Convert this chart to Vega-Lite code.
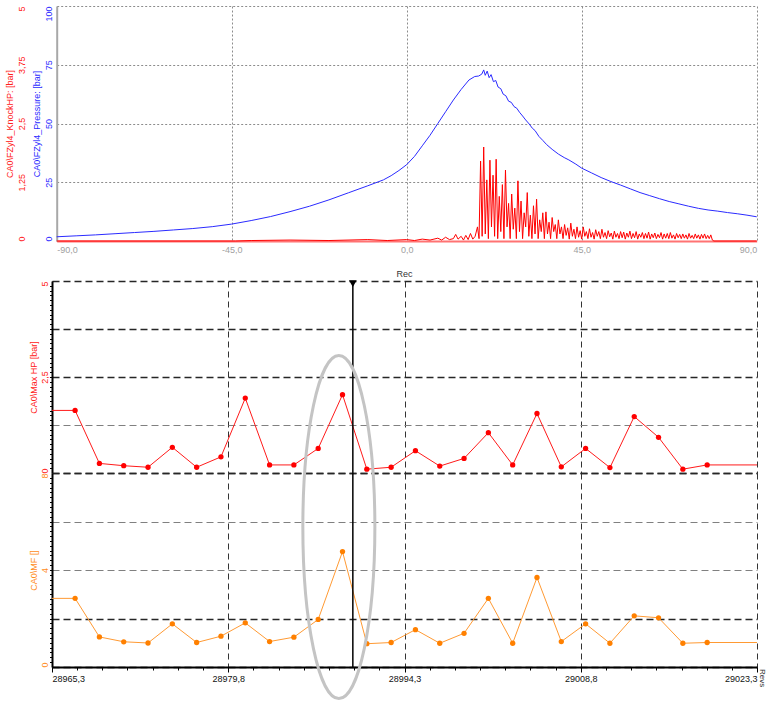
{
  "$schema": "https://vega.github.io/schema/vega-lite/v6.json",
  "padding": {"left": 5, "top": 6, "right": 0, "bottom": 0},
  "config": {
    "font": "Liberation Sans",
    "view": {"stroke": null},
    "axis": {"labelFontSize": 9, "titleFontSize": 9, "titleFontWeight": "normal", "labelOverlap": false}
  },
  "datasets": {
    "pressure": [
      {"deg": -90, "bar": 1.8}, {"deg": -85, "bar": 2.2}, {"deg": -80, "bar": 2.6}, {"deg": -75, "bar": 3.1},
      {"deg": -70, "bar": 3.6}, {"deg": -65, "bar": 4.1}, {"deg": -60, "bar": 4.7}, {"deg": -55, "bar": 5.3},
      {"deg": -50, "bar": 6.1}, {"deg": -45, "bar": 7.2}, {"deg": -40, "bar": 8.7}, {"deg": -35, "bar": 10.4},
      {"deg": -30, "bar": 12.5}, {"deg": -25, "bar": 14.8}, {"deg": -20, "bar": 17.5}, {"deg": -15, "bar": 20.5},
      {"deg": -10, "bar": 23.5}, {"deg": -6, "bar": 26}, {"deg": -4, "bar": 27.8}, {"deg": -2, "bar": 30},
      {"deg": 0, "bar": 32.5}, {"deg": 2, "bar": 36}, {"deg": 4, "bar": 40.5}, {"deg": 6, "bar": 45},
      {"deg": 8, "bar": 50}, {"deg": 10, "bar": 55}, {"deg": 12, "bar": 60}, {"deg": 14, "bar": 64.5},
      {"deg": 16, "bar": 68.5}, {"deg": 17.5, "bar": 70}, {"deg": 18.5, "bar": 70.2}, {"deg": 19.3, "bar": 71},
      {"deg": 19.8, "bar": 72.8}, {"deg": 20.2, "bar": 70.5}, {"deg": 20.7, "bar": 72.3}, {"deg": 21.2, "bar": 69.5},
      {"deg": 21.7, "bar": 70.8}, {"deg": 22.3, "bar": 67.8}, {"deg": 22.9, "bar": 68.3}, {"deg": 23.5, "bar": 65.5},
      {"deg": 24.2, "bar": 64.8}, {"deg": 24.8, "bar": 62.5}, {"deg": 25.5, "bar": 61.8}, {"deg": 26.2, "bar": 59.5},
      {"deg": 26.9, "bar": 59}, {"deg": 27.6, "bar": 57.2}, {"deg": 28.3, "bar": 56.5}, {"deg": 29, "bar": 54.8},
      {"deg": 29.8, "bar": 53.2}, {"deg": 30.6, "bar": 51.5}, {"deg": 31.5, "bar": 49.8}, {"deg": 32.3, "bar": 48},
      {"deg": 33, "bar": 47}, {"deg": 34, "bar": 44.5}, {"deg": 35, "bar": 42.8}, {"deg": 36, "bar": 41},
      {"deg": 37.4, "bar": 39}, {"deg": 39, "bar": 37}, {"deg": 40.5, "bar": 35.5}, {"deg": 41.7, "bar": 34.5},
      {"deg": 43.5, "bar": 32.7}, {"deg": 45, "bar": 31}, {"deg": 47.5, "bar": 29}, {"deg": 50, "bar": 27},
      {"deg": 52.5, "bar": 25.3}, {"deg": 55, "bar": 23.8}, {"deg": 57.5, "bar": 22.2}, {"deg": 60, "bar": 20.6},
      {"deg": 62.5, "bar": 19.3}, {"deg": 65, "bar": 18}, {"deg": 67.5, "bar": 16.8}, {"deg": 70, "bar": 15.8},
      {"deg": 72.5, "bar": 14.8}, {"deg": 75, "bar": 13.9}, {"deg": 77.5, "bar": 13.2}, {"deg": 80, "bar": 12.7},
      {"deg": 82.5, "bar": 12.1}, {"deg": 85, "bar": 11.6}, {"deg": 87.5, "bar": 11}, {"deg": 90, "bar": 10.3}
    ],
    "knock": [
      {"deg": -90, "bar": 0}, {"deg": -44, "bar": 0}, {"deg": -40, "bar": 0.01}, {"deg": -30, "bar": 0.02},
      {"deg": -20, "bar": 0.01}, {"deg": -10, "bar": 0.03}, {"deg": -5, "bar": 0.01}, {"deg": 0, "bar": 0.03},
      {"deg": 2, "bar": 0.01}, {"deg": 4, "bar": 0.04}, {"deg": 6, "bar": 0.02}, {"deg": 8, "bar": 0.06},
      {"deg": 9, "bar": 0.02}, {"deg": 10, "bar": 0.08}, {"deg": 11, "bar": 0.03}, {"deg": 12, "bar": 0.05},
      {"deg": 12.6, "bar": 0.14}, {"deg": 13.2, "bar": 0.04}, {"deg": 14, "bar": 0.1}, {"deg": 14.6, "bar": 0.02},
      {"deg": 15.2, "bar": 0.12}, {"deg": 15.8, "bar": 0.03}, {"deg": 16.4, "bar": 0.16}, {"deg": 17, "bar": 0.04},
      {"deg": 17.6, "bar": 0.1},
      {"deg": 18.2, "bar": 0.3}, {"deg": 18.6, "bar": 0.05}, {"deg": 19.0, "bar": 1.7}, {"deg": 19.4, "bar": 0.1},
      {"deg": 19.8, "bar": 2.0}, {"deg": 20.2, "bar": 0.15}, {"deg": 20.6, "bar": 1.3}, {"deg": 21.0, "bar": 0.05},
      {"deg": 21.4, "bar": 1.72}, {"deg": 21.8, "bar": 0.3}, {"deg": 22.2, "bar": 1.4}, {"deg": 22.6, "bar": 0.1},
      {"deg": 23.0, "bar": 1.74}, {"deg": 23.4, "bar": 0.05}, {"deg": 23.8, "bar": 0.95}, {"deg": 24.2, "bar": 0.2},
      {"deg": 24.6, "bar": 1.2}, {"deg": 25.0, "bar": 0.05}, {"deg": 25.4, "bar": 1.51}, {"deg": 25.8, "bar": 0.3},
      {"deg": 26.2, "bar": 0.8}, {"deg": 26.6, "bar": 0.05}, {"deg": 27.0, "bar": 1.0}, {"deg": 27.4, "bar": 0.25},
      {"deg": 27.8, "bar": 0.7}, {"deg": 28.2, "bar": 0.05}, {"deg": 28.6, "bar": 1.28}, {"deg": 29.0, "bar": 0.2},
      {"deg": 29.4, "bar": 0.85}, {"deg": 29.8, "bar": 0.05}, {"deg": 30.2, "bar": 0.6}, {"deg": 30.6, "bar": 0.3},
      {"deg": 31.0, "bar": 1.03}, {"deg": 31.4, "bar": 0.1}, {"deg": 31.8, "bar": 0.55}, {"deg": 32.2, "bar": 0.05},
      {"deg": 32.6, "bar": 0.75}, {"deg": 33.0, "bar": 0.15}, {"deg": 33.4, "bar": 0.89}, {"deg": 33.8, "bar": 0.05},
      {"deg": 34.2, "bar": 0.45}, {"deg": 34.6, "bar": 0.2}, {"deg": 35.0, "bar": 0.6}, {"deg": 35.4, "bar": 0.05},
      {"deg": 35.8, "bar": 0.62}, {"deg": 36.2, "bar": 0.15}, {"deg": 36.6, "bar": 0.4}, {"deg": 37.0, "bar": 0.05},
      {"deg": 37.4, "bar": 0.5}, {"deg": 37.8, "bar": 0.2}, {"deg": 38.2, "bar": 0.35}, {"deg": 38.6, "bar": 0.05},
      {"deg": 39.0, "bar": 0.45}, {"deg": 39.4, "bar": 0.15}, {"deg": 39.8, "bar": 0.3}, {"deg": 40.2, "bar": 0.05},
      {"deg": 40.6, "bar": 0.35}, {"deg": 41.0, "bar": 0.12}, {"deg": 41.4, "bar": 0.28}, {"deg": 41.8, "bar": 0.04},
      {"deg": 42.2, "bar": 0.38}, {"deg": 42.6, "bar": 0.1}, {"deg": 43.0, "bar": 0.25}, {"deg": 43.4, "bar": 0.05},
      {"deg": 43.8, "bar": 0.3}, {"deg": 44.2, "bar": 0.08}, {"deg": 44.6, "bar": 0.22}, {"deg": 45.0, "bar": 0.04},
      {"deg": 45.4, "bar": 0.3}, {"deg": 45.8, "bar": 0.1}, {"deg": 46.2, "bar": 0.2}, {"deg": 46.6, "bar": 0.05},
      {"deg": 47.0, "bar": 0.26}, {"deg": 47.4, "bar": 0.08}, {"deg": 47.8, "bar": 0.18}, {"deg": 48.2, "bar": 0.04},
      {"deg": 48.6, "bar": 0.24}, {"deg": 49.0, "bar": 0.1}, {"deg": 49.4, "bar": 0.2}, {"deg": 49.8, "bar": 0.05},
      {"deg": 50.2, "bar": 0.25}, {"deg": 50.6, "bar": 0.08}, {"deg": 51.0, "bar": 0.18}, {"deg": 51.4, "bar": 0.05},
      {"deg": 51.8, "bar": 0.22}, {"deg": 52.2, "bar": 0.09}, {"deg": 52.6, "bar": 0.17}, {"deg": 53.0, "bar": 0.04},
      {"deg": 53.4, "bar": 0.21}, {"deg": 53.8, "bar": 0.08}, {"deg": 54.2, "bar": 0.16}, {"deg": 54.6, "bar": 0.05},
      {"deg": 55.0, "bar": 0.2}, {"deg": 55.4, "bar": 0.07}, {"deg": 55.8, "bar": 0.19}, {"deg": 56.2, "bar": 0.04},
      {"deg": 56.6, "bar": 0.17}, {"deg": 57.0, "bar": 0.08}, {"deg": 57.4, "bar": 0.21}, {"deg": 57.8, "bar": 0.05},
      {"deg": 58.2, "bar": 0.16}, {"deg": 58.6, "bar": 0.07}, {"deg": 59.0, "bar": 0.2}, {"deg": 59.4, "bar": 0.04},
      {"deg": 59.8, "bar": 0.15}, {"deg": 60.2, "bar": 0.08}, {"deg": 60.6, "bar": 0.18}, {"deg": 61.0, "bar": 0.05},
      {"deg": 61.4, "bar": 0.16}, {"deg": 61.8, "bar": 0.06}, {"deg": 62.2, "bar": 0.19}, {"deg": 62.6, "bar": 0.04},
      {"deg": 63.0, "bar": 0.15}, {"deg": 63.4, "bar": 0.07}, {"deg": 63.8, "bar": 0.17}, {"deg": 64.2, "bar": 0.05},
      {"deg": 64.6, "bar": 0.14}, {"deg": 65.0, "bar": 0.07}, {"deg": 65.4, "bar": 0.18}, {"deg": 65.8, "bar": 0.04},
      {"deg": 66.2, "bar": 0.15}, {"deg": 66.6, "bar": 0.06}, {"deg": 67.0, "bar": 0.16}, {"deg": 67.4, "bar": 0.05},
      {"deg": 67.8, "bar": 0.18}, {"deg": 68.2, "bar": 0.06}, {"deg": 68.6, "bar": 0.13}, {"deg": 69.0, "bar": 0.04},
      {"deg": 69.4, "bar": 0.16}, {"deg": 69.8, "bar": 0.07}, {"deg": 70.2, "bar": 0.14}, {"deg": 70.6, "bar": 0.05},
      {"deg": 71.0, "bar": 0.15}, {"deg": 71.4, "bar": 0.06}, {"deg": 71.8, "bar": 0.13}, {"deg": 72.2, "bar": 0.04},
      {"deg": 72.6, "bar": 0.16}, {"deg": 73.0, "bar": 0.06}, {"deg": 73.4, "bar": 0.12}, {"deg": 73.8, "bar": 0.05},
      {"deg": 74.2, "bar": 0.15}, {"deg": 74.6, "bar": 0.06}, {"deg": 75.0, "bar": 0.13}, {"deg": 75.4, "bar": 0.04},
      {"deg": 75.8, "bar": 0.14}, {"deg": 76.2, "bar": 0.06}, {"deg": 76.6, "bar": 0.15}, {"deg": 77.0, "bar": 0.05},
      {"deg": 77.4, "bar": 0.12}, {"deg": 77.8, "bar": 0.05}, {"deg": 78.2, "bar": 0.13}, {"deg": 78.6, "bar": 0.02},
      {"deg": 79.0, "bar": 0}, {"deg": 90, "bar": 0}
    ],
    "cyc": [
      {"rev": 28965.3, "hp": 1.63, "mf": 2.83, "src": "hold"},
      {"rev": 28967.2, "hp": 1.63, "mf": 2.83, "src": "cycle"},
      {"rev": 28969.2, "hp": 0.25, "mf": 1.24, "src": "cycle"},
      {"rev": 28971.2, "hp": 0.19, "mf": 1.04, "src": "cycle"},
      {"rev": 28973.2, "hp": 0.15, "mf": 0.99, "src": "cycle"},
      {"rev": 28975.2, "hp": 0.67, "mf": 1.78, "src": "cycle"},
      {"rev": 28977.2, "hp": 0.15, "mf": 1.01, "src": "cycle"},
      {"rev": 28979.2, "hp": 0.42, "mf": 1.27, "src": "cycle"},
      {"rev": 28981.2, "hp": 1.95, "mf": 1.82, "src": "cycle"},
      {"rev": 28983.2, "hp": 0.21, "mf": 1.05, "src": "cycle"},
      {"rev": 28985.2, "hp": 0.21, "mf": 1.23, "src": "cycle"},
      {"rev": 28987.2, "hp": 0.64, "mf": 1.96, "src": "cycle"},
      {"rev": 28989.2, "hp": 2.04, "mf": 4.76, "src": "cycle"},
      {"rev": 28991.2, "hp": 0.10, "mf": 0.96, "src": "cycle"},
      {"rev": 28993.2, "hp": 0.15, "mf": 1.01, "src": "cycle"},
      {"rev": 28995.2, "hp": 0.58, "mf": 1.54, "src": "cycle"},
      {"rev": 28997.2, "hp": 0.18, "mf": 0.98, "src": "cycle"},
      {"rev": 28999.2, "hp": 0.38, "mf": 1.39, "src": "cycle"},
      {"rev": 29001.2, "hp": 1.05, "mf": 2.83, "src": "cycle"},
      {"rev": 29003.2, "hp": 0.21, "mf": 0.98, "src": "cycle"},
      {"rev": 29005.2, "hp": 1.55, "mf": 3.69, "src": "cycle"},
      {"rev": 29007.2, "hp": 0.16, "mf": 1.05, "src": "cycle"},
      {"rev": 29009.2, "hp": 0.64, "mf": 1.78, "src": "cycle"},
      {"rev": 29011.2, "hp": 0.14, "mf": 0.98, "src": "cycle"},
      {"rev": 29013.2, "hp": 1.47, "mf": 2.11, "src": "cycle"},
      {"rev": 29015.2, "hp": 0.93, "mf": 2.03, "src": "cycle"},
      {"rev": 29017.2, "hp": 0.10, "mf": 0.98, "src": "cycle"},
      {"rev": 29019.2, "hp": 0.21, "mf": 1.01, "src": "cycle"},
      {"rev": 29023.3, "hp": 0.21, "mf": 1.01, "src": "hold"}
    ],
    "cursor": [{"rev": 28990.05, "label": "Rec", "recRev": 28994.3}],
    "ring": [{"rev": 28988.9, "mf": 5.77}]
  },
  "spacing": 40,
  "bounds": "flush",
  "vconcat": [
    {
      "width": 705,
      "height": 235,
      "resolve": {"scale": {"y": "independent"}},
      "layer": [
        {
          "data": {"name": "pressure"},
          "mark": {"type": "line", "color": "#2b2bff", "strokeWidth": 1},
          "encoding": {
            "x": {
              "field": "deg", "type": "quantitative",
              "scale": {"domain": [-90, 90], "nice": false, "zero": false, "range": [4.7, 704.7]},
              "axis": {
                "values": [-90, -45, 0, 45, 90],
                "labelExpr": "(datum.value < 0 ? '-' : '') + replace(format(abs(datum.value), '.1f'), '.', ',')",
                "labelColor": "#a0a0a0", "labelFlush": true, "labelPadding": 4,
                "ticks": false, "tickSize": 0,
                "domainColor": "#ff7373", "domainWidth": 2,
                "grid": true, "gridColor": "#8c8c8c", "gridDash": [2, 2],
                "title": null
              }
            },
            "y": {
              "field": "bar", "type": "quantitative",
              "scale": {"domain": [0, 100], "nice": false},
              "axis": {
                "orient": "left", "offset": -4.7,
                "values": [0, 25, 50, 75, 100],
                "labelExpr": "toString(datum.value)",
                "labelAngle": -90, "labelBaseline": "bottom",
                "labelAlign": {"condition": [{"test": "datum.value == 100", "value": "right"}, {"test": "datum.value == 0", "value": "left"}], "value": "center"},
                "labelPadding": 3, "labelColor": "#2b2bff",
                "ticks": false, "tickSize": 0,
                "domainColor": "#a8a8a8", "domainWidth": 2,
                "grid": true, "gridColor": "#8c8c8c", "gridDash": [2, 2],
                "title": "CA0\\FZyl4_Pressure: [bar]", "titleColor": "#2b2bff", "titlePadding": 3
              }
            }
          }
        },
        {
          "data": {"name": "knock"},
          "mark": {"type": "line", "color": "#ff0000", "strokeWidth": 1},
          "encoding": {
            "x": {"field": "deg", "type": "quantitative"},
            "y": {
              "field": "bar", "type": "quantitative",
              "scale": {"domain": [0, 5], "nice": false},
              "axis": {
                "orient": "left", "offset": 24,
                "values": [0, 1.25, 2.5, 3.75, 5],
                "labelExpr": "replace(toString(datum.value), '.', ',')",
                "labelAngle": -90, "labelBaseline": "bottom",
                "labelAlign": {"condition": [{"test": "datum.value == 5", "value": "right"}, {"test": "datum.value == 0", "value": "left"}], "value": "center"},
                "labelPadding": 2, "labelColor": "#ff2020",
                "ticks": false, "tickSize": 0, "domain": false, "grid": false,
                "title": "CA0\\FZyl4_KnockHP: [bar]", "titleColor": "#ff2020", "titlePadding": 3
              }
            }
          }
        }
      ]
    },
    {
      "spacing": 0,
      "bounds": "flush",
      "vconcat": [
        {
          "width": 705,
          "height": 192,
          "resolve": {"axis": {"y": "independent"}},
          "layer": [
            {
              "data": {"name": "cyc"},
              "mark": {"type": "line", "color": "#ff1a1a", "strokeWidth": 1},
              "encoding": {
                "x": {
                  "field": "rev", "type": "quantitative",
                  "scale": {"domain": [28965.3, 29023.3], "nice": false, "zero": false},
                  "axis": {
                    "values": [28965.3, 28979.8, 28994.3, 29008.8, 29023.3],
                    "labels": false, "ticks": false, "domain": false, "title": null,
                    "grid": true, "gridColor": "#333333", "gridDash": [6, 4], "gridWidth": 1
                  }
                },
                "y": {
                  "field": "hp", "type": "quantitative",
                  "scale": {"domain": [0, 5], "nice": false},
                  "axis": {
                    "orient": "left",
                    "values": [0, 1.25, 2.5, 3.75, 5],
                    "labelExpr": "datum.value == 1.25 || datum.value == 3.75 ? '' : replace(toString(datum.value), '.', ',')",
                    "labelAngle": -90, "labelBaseline": "bottom",
                    "labelAlign": {"condition": [{"test": "datum.value == 5", "value": "right"}, {"test": "datum.value == 0", "value": "left"}], "value": "center"},
                    "labelPadding": 3, "labelColor": "#ff2020",
                    "ticks": false, "tickSize": 0,
                    "domainColor": "#000000", "domainWidth": 2,
                    "grid": true,
                    "gridColor": {"condition": {"test": "datum.value == 1.25", "value": "#808080"}, "value": "#262626"},
                    "gridWidth": {"condition": {"test": "datum.value == 1.25", "value": 1}, "value": 1.5},
                    "gridDash": [7, 4],
                    "title": "CA0\\Max HP [bar]", "titleColor": "#ff2020", "titlePadding": 2
                  }
                }
              }
            },
            {
              "data": {"name": "cyc"},
              "transform": [{"filter": "datum.src == 'cycle'"}],
              "mark": {"type": "point", "filled": true, "color": "#ff0000", "size": 28, "opacity": 1},
              "encoding": {
                "x": {"field": "rev", "type": "quantitative"},
                "y": {
                  "field": "hp", "type": "quantitative",
                  "axis": {
                    "orient": "left",
                    "values": [0.125, 0.25, 0.375, 0.5, 0.625, 0.75, 0.875, 1, 1.125, 1.25, 1.375, 1.5, 1.625, 1.75, 1.875, 2, 2.125, 2.25, 2.375, 2.5, 2.625, 2.75, 2.875, 3, 3.125, 3.25, 3.375, 3.5, 3.625, 3.75, 3.875, 4, 4.125, 4.25, 4.375, 4.5, 4.625, 4.75, 4.875],
                    "labels": false, "domain": false, "grid": false, "title": null,
                    "ticks": true, "tickSize": 2.5, "tickColor": "#000000", "tickWidth": 1
                  }
                }
              }
            },
            {
              "data": {"name": "cursor"},
              "mark": {"type": "rule", "color": "#000000", "strokeWidth": 1.5},
              "encoding": {"x": {"field": "rev", "type": "quantitative"}}
            },
            {
              "data": {"name": "cursor"},
              "mark": {"type": "point", "shape": "triangle-down", "filled": true, "color": "#000000", "size": 60, "opacity": 1},
              "encoding": {"x": {"field": "rev", "type": "quantitative"}, "y": {"datum": 4.93, "axis": null}}
            },
            {
              "data": {"name": "cursor"},
              "mark": {"type": "text", "baseline": "bottom", "align": "center", "dy": -2, "fontSize": 9, "color": "#333333"},
              "encoding": {"x": {"field": "recRev", "type": "quantitative"}, "y": {"datum": 5, "axis": null}, "text": {"field": "label"}}
            },
            {
              "mark": {"type": "rule", "color": "#000000", "strokeWidth": 2},
              "encoding": {"x": {"datum": 28965.3}, "y": {"datum": 5, "axis": null}, "y2": {"datum": 5.3}}
            },
            {
              "mark": {"type": "point", "shape": "triangle-up", "filled": true, "color": "#000000", "size": 40, "opacity": 1},
              "encoding": {"x": {"datum": 28965.3}, "y": {"datum": 5.3, "axis": null}}
            }
          ]
        },
        {
          "width": 705,
          "height": 194,
          "resolve": {"axis": {"y": "independent", "x": "independent"}},
          "layer": [
            {
              "data": {"name": "cyc"},
              "mark": {"type": "line", "color": "#ff9a33", "strokeWidth": 1},
              "encoding": {
                "x": {
                  "field": "rev", "type": "quantitative",
                  "scale": {"domain": [28965.3, 29023.3], "nice": false, "zero": false},
                  "axis": {
                    "orient": "bottom",
                    "values": [28965.3, 28979.8, 28994.3, 29008.8, 29023.3],
                    "labelExpr": "replace(format(datum.value, '.1f'), '.', ',')",
                    "labelColor": "#111111", "labelFlush": true, "labelPadding": 2,
                    "ticks": true, "tickSize": 5, "tickColor": "#000000", "tickWidth": 1,
                    "domainColor": "#000000", "domainWidth": 2,
                    "grid": true, "gridColor": "#333333", "gridDash": [6, 4], "gridWidth": 1,
                    "title": null
                  }
                },
                "y": {
                  "field": "mf", "type": "quantitative",
                  "scale": {"domain": [0, 8], "nice": false},
                  "axis": {
                    "orient": "left",
                    "values": [0, 2, 4, 6, 8],
                    "labelExpr": "datum.value == 2 || datum.value == 6 ? '' : toString(datum.value)",
                    "labelAngle": -90, "labelBaseline": "bottom",
                    "labelAlign": {"condition": [{"test": "datum.value == 8", "value": "right"}, {"test": "datum.value == 0", "value": "left"}], "value": "center"},
                    "labelPadding": 3, "labelColor": "#ff8c1a",
                    "ticks": false, "tickSize": 0,
                    "domainColor": "#000000", "domainWidth": 2,
                    "grid": true,
                    "gridColor": {"condition": {"test": "datum.value == 4 || datum.value == 6", "value": "#808080"}, "value": "#262626"},
                    "gridWidth": {"condition": {"test": "datum.value == 4 || datum.value == 6", "value": 1}, "value": 1.5},
                    "gridDash": [7, 4],
                    "title": "CA0\\MF []", "titleColor": "#ff8c1a", "titlePadding": 2
                  }
                }
              }
            },
            {
              "data": {"name": "cyc"},
              "transform": [{"filter": "datum.src == 'cycle'"}],
              "mark": {"type": "point", "filled": true, "color": "#ff8000", "size": 28, "opacity": 1},
              "encoding": {
                "x": {
                  "field": "rev", "type": "quantitative",
                  "axis": {
                    "orient": "bottom",
                    "values": [28967.37, 28969.44, 28971.51, 28973.59, 28975.66, 28977.73, 28981.87, 28983.94, 28986.01, 28988.09, 28990.16, 28992.23, 28996.37, 28998.44, 29000.51, 29002.59, 29004.66, 29006.73, 29010.87, 29012.94, 29015.01, 29017.09, 29019.16, 29021.23],
                    "labels": false, "domain": false, "grid": false, "title": null,
                    "ticks": true, "tickSize": 3, "tickColor": "#000000", "tickWidth": 1
                  }
                },
                "y": {
                  "field": "mf", "type": "quantitative",
                  "axis": {
                    "orient": "left",
                    "values": [0.2, 0.4, 0.6, 0.8, 1, 1.2, 1.4, 1.6, 1.8, 2, 2.2, 2.4, 2.6, 2.8, 3, 3.2, 3.4, 3.6, 3.8, 4, 4.2, 4.4, 4.6, 4.8, 5, 5.2, 5.4, 5.6, 5.8, 6, 6.2, 6.4, 6.6, 6.8, 7, 7.2, 7.4, 7.6, 7.8],
                    "labels": false, "domain": false, "grid": false, "title": null,
                    "ticks": true, "tickSize": 2.5, "tickColor": "#000000", "tickWidth": 1
                  }
                }
              }
            },
            {
              "data": {"name": "cursor"},
              "mark": {"type": "rule", "color": "#000000", "strokeWidth": 1.5},
              "encoding": {"x": {"field": "rev", "type": "quantitative", "axis": null}}
            },
            {
              "mark": {"type": "rule", "color": "#000000", "strokeWidth": 2},
              "encoding": {"x": {"datum": 28965.3, "axis": null}, "y": {"datum": 8, "axis": null}, "y2": {"datum": 8.15}}
            },
            {
              "mark": {"type": "point", "shape": "triangle-up", "filled": true, "color": "#000000", "size": 25, "opacity": 1},
              "encoding": {"x": {"datum": 28965.3, "axis": null}, "y": {"datum": 8.15, "axis": null}}
            },
            {
              "data": {"name": "ring"},
              "mark": {"type": "point", "shape": "M -0.21 0 A 0.21 1 0 1 0 0.21 0 A 0.21 1 0 1 0 -0.21 0 Z", "size": 117649, "filled": false, "stroke": "#c4c4c4", "strokeWidth": 3, "opacity": 1},
              "encoding": {
                "x": {"field": "rev", "type": "quantitative", "axis": null},
                "y": {"field": "mf", "type": "quantitative", "axis": null}
              }
            },
            {
              "data": {"values": [{"rev": 29023.3, "mf": 0, "label": "Revs"}]},
              "mark": {"type": "text", "angle": 90, "align": "left", "baseline": "bottom", "dx": 2, "dy": -0.5, "fontSize": 8, "color": "#333333"},
              "encoding": {
                "x": {"field": "rev", "type": "quantitative", "axis": null},
                "y": {"field": "mf", "type": "quantitative", "axis": null},
                "text": {"field": "label"}
              }
            }
          ]
        }
      ]
    }
  ]
}
